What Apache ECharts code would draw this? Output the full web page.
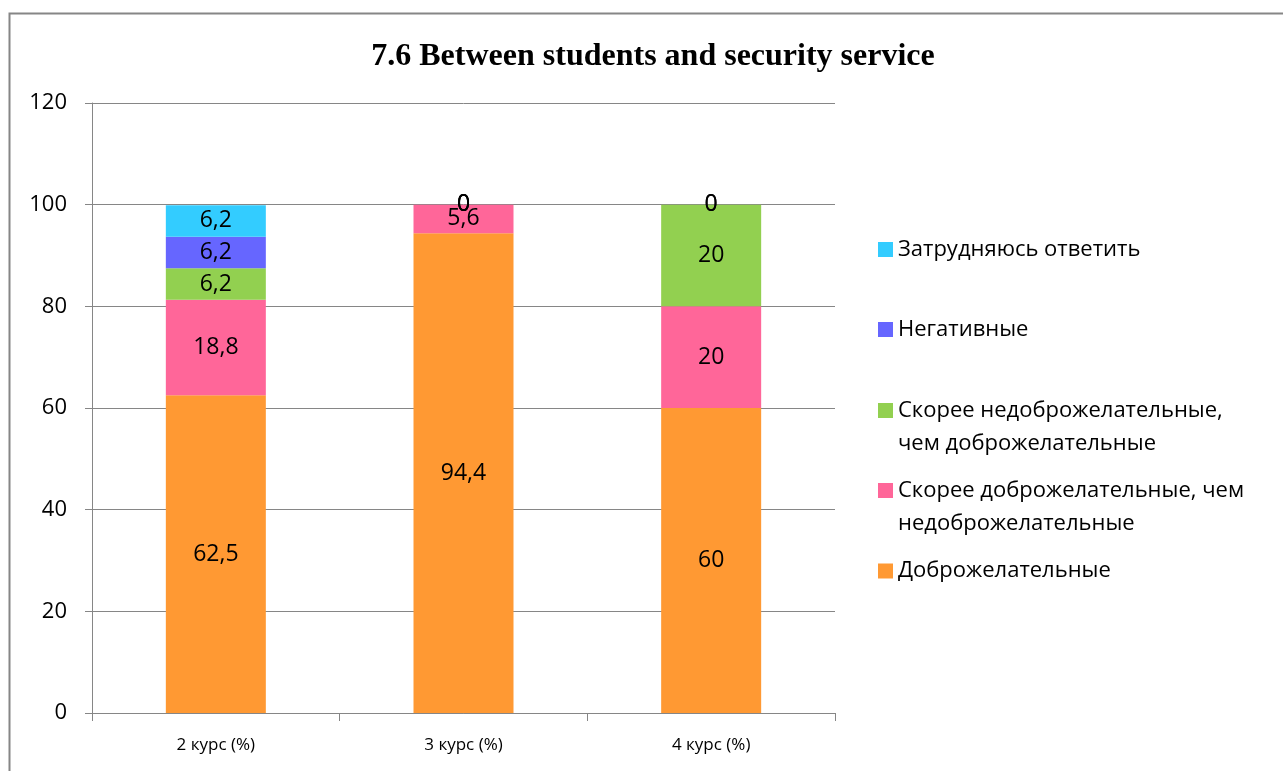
<!DOCTYPE html>
<html><head><meta charset="utf-8">
<script src="https://cdn.jsdelivr.net/npm/echarts@6/dist/echarts.min.js"></script>
<style>html,body{margin:0;padding:0;background:#fff}#c{width:1283px;height:771px}</style>
</head><body><div id="c"></div>
<script>
const categories = ['2 курс (%)', '3 курс (%)', '4 курс (%)'];
const seriesNames = ['Доброжелательные', 'Скорее доброжелательные, чем\nнедоброжелательные', 'Скорее недоброжелательные,\nчем доброжелательные', 'Негативные', 'Затрудняюсь ответить'];
const dobro = [62.5, 94.4, 60];
const skoreeDobro = [18.8, 5.6, 20];
const skoreeNedobro = [6.2, 0, 20];
const negativ = [6.2, 0, 0];
const zatrud = [6.2, 0, 0];
const colors = ['#FF9933', '#FF6699', '#92D050', '#6666FF', '#33CCFF'];
const yTicks = [0, 20, 40, 60, 80, 100, 120];

const values = [dobro, skoreeDobro, skoreeNedobro, negativ, zatrud];
const font = 'Open Sans';
const series = values.map((v, i) => ({
  name: seriesNames[i],
  type: 'bar',
  stack: 'total',
  barWidth: 100,
  data: v,
  itemStyle: { color: colors[i] },
  label: {
    show: true, position: 'inside', color: '#000', fontFamily: font, fontSize: 23,
    formatter: p => String(p.value).replace('.', ',')
  }
}));

const L = 33;
const iconCenters = [249.5, 329.5, 410.5, 490.5, 571];
const legends = [4, 3, 2, 1, 0].map((si, k) => {
  const twoLine = seriesNames[si].indexOf('\n') >= 0;
  return {
    data: [seriesNames[si]],
    left: 878, top: iconCenters[k] - (twoLine ? 1.5 * L : L / 2),
    padding: 0,
    orient: 'vertical',
    icon: 'rect', itemWidth: 15, itemHeight: 15, itemGap: 0,
    selectedMode: false,
    formatter: name => twoLine ? ' \n' + name : name,
    textStyle: { fontFamily: font, fontSize: 22, color: '#000', lineHeight: L }
  };
});

const chart = echarts.init(document.getElementById('c'));
chart.setOption({
  animation: false,
  backgroundColor: '#fff',
  title: {
    text: '7.6 Between students and security service',
    left: 648, top: 36, textAlign: 'center',
    textStyle: { fontFamily: 'Liberation Serif', fontWeight: 'bold', fontSize: 32, color: '#000' }
  },
  graphic: [{ type: 'rect', shape: { x: 9.5, y: 13.5, width: 1400, height: 900 }, style: { fill: 'none', stroke: '#868686', lineWidth: 2 }, silent: true, z: -1 }],
  legend: legends,
  grid: { left: 92, right: 448, top: 103, bottom: 58 },
  xAxis: {
    type: 'category', data: categories,
    axisLine: { lineStyle: { color: '#868686', width: 1 } },
    axisTick: { show: true, length: 8, lineStyle: { color: '#868686' } },
    axisLabel: { fontFamily: font, fontSize: 17, color: '#000', margin: 24 }
  },
  yAxis: {
    type: 'value', min: yTicks[0], max: yTicks[yTicks.length - 1], interval: 20,
    axisLine: { show: true, lineStyle: { color: '#868686' } },
    axisTick: { show: true, length: 7, lineStyle: { color: '#868686' } },
    splitLine: { lineStyle: { color: '#868686' } },
    axisLabel: { fontFamily: font, fontSize: 22, color: '#000', margin: 25 }
  },
  series
});
</script></body></html>
